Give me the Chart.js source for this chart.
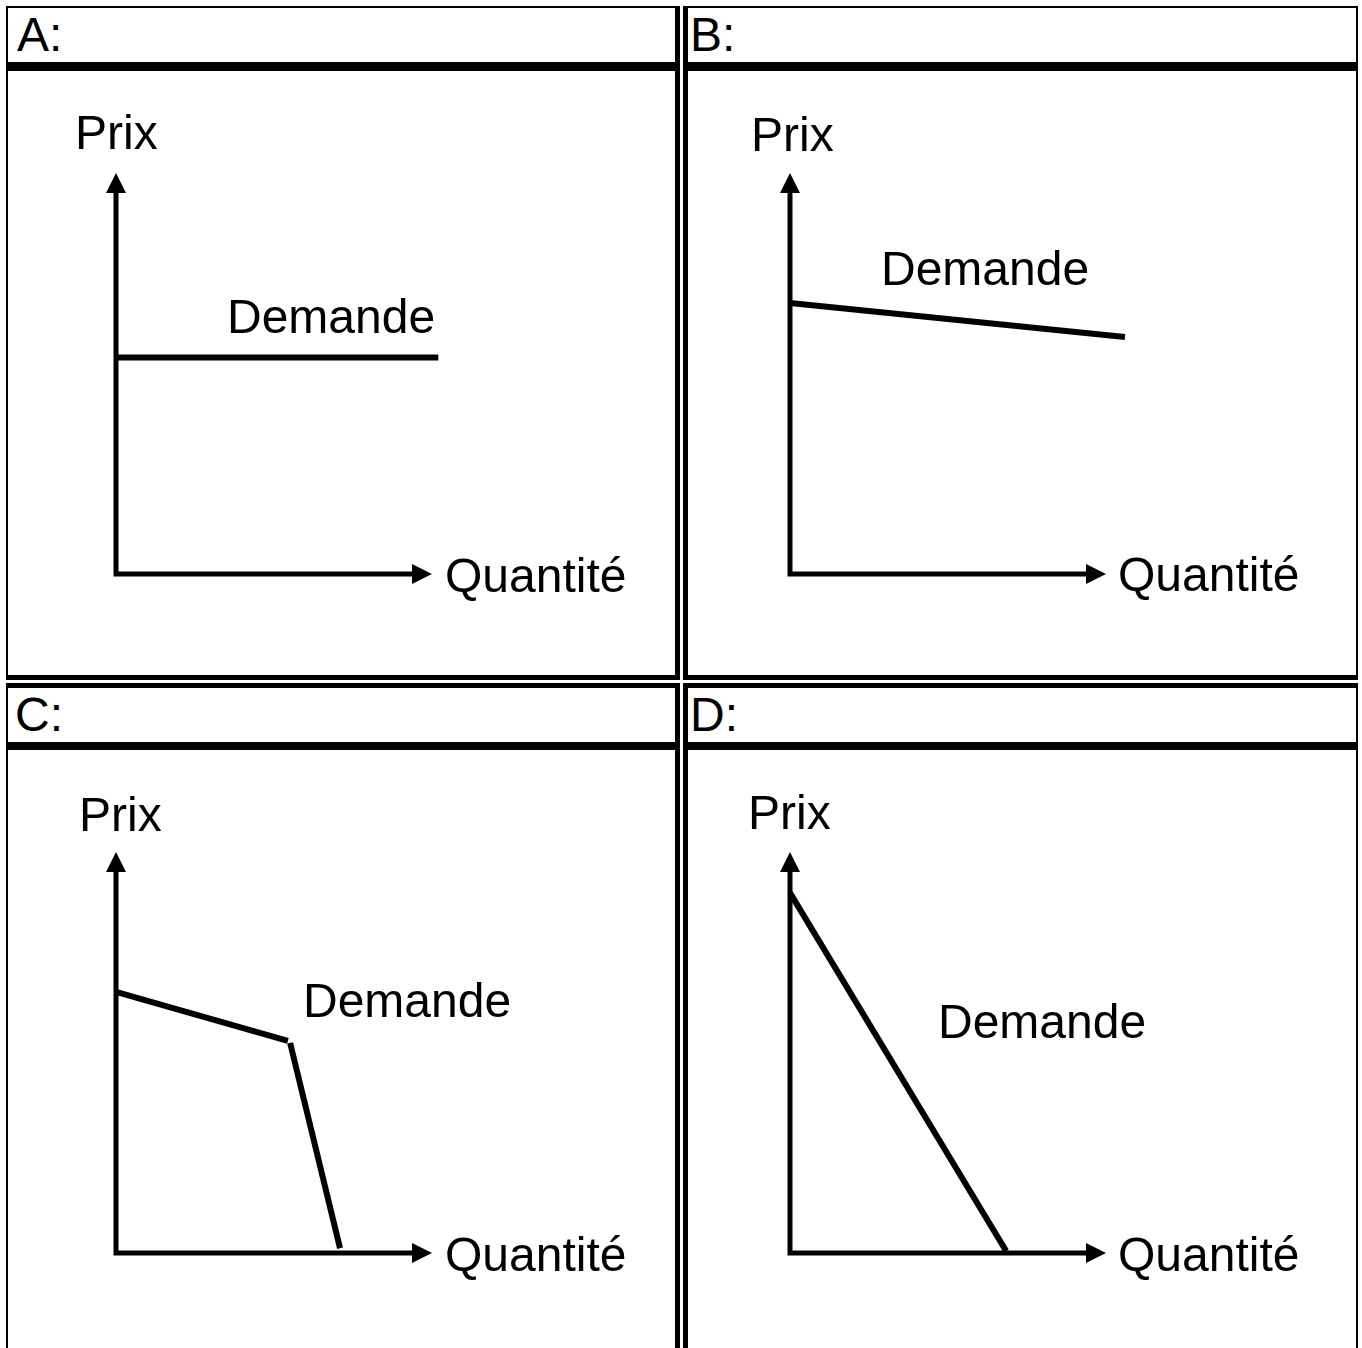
<!DOCTYPE html>
<html>
<head>
<meta charset="utf-8">
<script src="https://cdn.jsdelivr.net/npm/chart.js@4"></script>
<style>
  html, body { margin: 0; padding: 0; background: #fff; }
  body { width: 1362px; height: 1348px; position: relative; overflow: hidden; font-family: "Liberation Sans", Arial, sans-serif; }
  .bar { position: absolute; background: #000; }
  .hdr { position: absolute; font-size: 48px; line-height: 48px; color: #000; white-space: nowrap; }
  canvas { position: absolute; }
</style>
</head>
<body>
<script>
// ---- data ----
const panelLetters = ['A:', 'B:', 'C:', 'D:'];
const yAxisLabel = 'Prix';
const xAxisLabel = 'Quantité';
const curveLabel = 'Demande';

// demand curves (axis units: 0..10, 10 = arrow tip)
const demandA_x = [0, 10.2];
const demandA_y = [5.4, 5.4];
const demandB_x = [0, 10.6];
const demandB_y = [6.76, 5.91];
const demandC1_x = [0, 5.44];
const demandC1_y = [6.51, 5.29];
const demandC2_x = [5.51, 7.09];
const demandC2_y = [5.24, 0.12];
const demandD_x = [0, 6.84];
const demandD_y = [8.98, 0.05];

// ---- frame (borders) ----
function bar(x, y, w, h) {
  const d = document.createElement('div');
  d.className = 'bar';
  d.style.left = x + 'px'; d.style.top = y + 'px';
  d.style.width = w + 'px'; d.style.height = h + 'px';
  document.body.appendChild(d);
}
// panel A box
bar(6, 6, 674, 2); bar(6, 6, 2, 674); bar(675, 6, 5, 674); bar(6, 675, 674, 5);
// panel B box
bar(683, 6, 675, 2); bar(683, 6, 5, 674); bar(1356, 6, 2, 674); bar(683, 675, 675, 5);
// panel C box
bar(6, 683, 674, 5); bar(6, 683, 2, 665); bar(675, 683, 5, 665);
// panel D box
bar(683, 683, 675, 5); bar(683, 683, 5, 665); bar(1356, 683, 2, 665);
// header rules
bar(8, 62, 667, 9); bar(688, 62, 668, 9);
bar(8, 742, 667, 8); bar(688, 742, 668, 8);

// headers
function hdr(text, x, y) {
  const d = document.createElement('div');
  d.className = 'hdr';
  d.textContent = text;
  d.style.left = x + 'px'; d.style.top = y + 'px';
  document.body.appendChild(d);
}
hdr(panelLetters[0], 17, 11);
hdr(panelLetters[1], 690, 11);
hdr(panelLetters[2], 15, 691);
hdr(panelLetters[3], 690, 691);

// ---- charts ----
function toPts(xs, ys) { return xs.map((x, i) => ({ x: x, y: ys[i] })); }

const axesPlugin = {
  id: 'axesArrows',
  beforeDatasetsDraw(chart, args, opts) {
    const ctx = chart.ctx;
    const xs = chart.scales.x, ys = chart.scales.y;
    const ox = xs.getPixelForValue(0), oy = ys.getPixelForValue(0);
    const tx = xs.getPixelForValue(10), ty = ys.getPixelForValue(10);
    const aw = 10, al = 20, lw = 5;
    ctx.save();
    ctx.strokeStyle = '#000';
    ctx.fillStyle = '#000';
    ctx.lineWidth = lw;
    ctx.lineCap = 'butt';
    ctx.beginPath();
    ctx.moveTo(ox, oy + lw / 2);
    ctx.lineTo(ox, ty + al - 1);
    ctx.moveTo(ox - lw / 2, oy);
    ctx.lineTo(tx - al + 1, oy);
    ctx.stroke();
    // y arrow
    ctx.beginPath();
    ctx.moveTo(ox, ty);
    ctx.lineTo(ox - aw, ty + al);
    ctx.lineTo(ox + aw, ty + al);
    ctx.closePath();
    ctx.fill();
    // x arrow
    ctx.beginPath();
    ctx.moveTo(tx, oy);
    ctx.lineTo(tx - al, oy - aw);
    ctx.lineTo(tx - al, oy + aw);
    ctx.closePath();
    ctx.fill();
    // labels
    ctx.font = '48px "Liberation Sans", Arial, sans-serif';
    ctx.textBaseline = 'alphabetic';
    ctx.textAlign = 'left';
    const L = opts.labels;
    ctx.fillText(yAxisLabel, ox + L.prix[0], oy + L.prix[1]);
    ctx.fillText(xAxisLabel, ox + L.qte[0], oy + L.qte[1]);
    ctx.fillText(curveLabel, ox + L.dem[0], oy + L.dem[1]);
    ctx.restore();
  }
};

function makeChart(left, top, w, h, pad, datasets, labels) {
  const c = document.createElement('canvas');
  c.width = w; c.height = h;
  c.style.left = left + 'px'; c.style.top = top + 'px';
  c.style.width = w + 'px'; c.style.height = h + 'px';
  document.body.appendChild(c);
  new Chart(c.getContext('2d'), {
    type: 'scatter',
    data: {
      datasets: datasets.map(d => ({
        data: d,
        showLine: true,
        borderColor: '#000',
        backgroundColor: '#000',
        borderWidth: 6,
        borderCapStyle: 'butt',
        pointRadius: 0,
        pointHoverRadius: 0,
        clip: false,
        tension: 0
      }))
    },
    options: {
      responsive: false,
      animation: false,
      devicePixelRatio: 1,
      layout: { padding: pad },
      events: [],
      plugins: {
        legend: { display: false },
        tooltip: { enabled: false },
        title: { display: false },
        axesArrows: { labels: labels }
      },
      scales: {
        x: { type: 'linear', min: 0, max: 10, display: false },
        y: { type: 'linear', min: 0, max: 10, display: false }
      }
    },
    plugins: [axesPlugin]
  });
}

// Panel A
makeChart(8, 71, 667, 604, { left: 108, top: 102, right: 243, bottom: 101 },
  [toPts(demandA_x, demandA_y)],
  { prix: [-41, -425], qte: [329, 18], dem: [111, -241] });
// Panel B
makeChart(688, 71, 668, 604, { left: 102, top: 102, right: 250, bottom: 101 },
  [toPts(demandB_x, demandB_y)],
  { prix: [-39, -423], qte: [328, 17], dem: [91, -289] });
// Panel C
makeChart(8, 750, 667, 598, { left: 108, top: 102, right: 243, bottom: 95 },
  [toPts(demandC1_x, demandC1_y), toPts(demandC2_x, demandC2_y)],
  { prix: [-37, -422], qte: [329, 18], dem: [187, -236] });
// Panel D
makeChart(688, 750, 668, 598, { left: 102, top: 102, right: 250, bottom: 95 },
  [toPts(demandD_x, demandD_y)],
  { prix: [-42, -424], qte: [328, 18], dem: [148, -215] });
</script>
</body>
</html>
